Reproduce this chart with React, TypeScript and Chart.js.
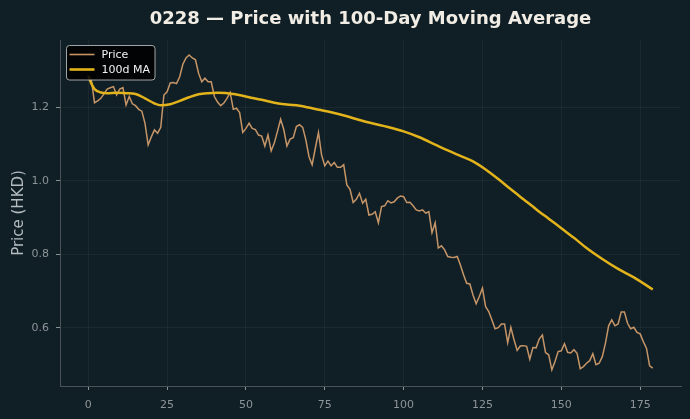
import React, { useEffect, useRef } from "react";
import { Chart, registerables } from "chart.js";

Chart.register(...registerables);

const titleText = "0228 — Price with 100-Day Moving Average";
const yAxisLabel = "Price (HKD)";
const priceLabel = "Price";
const maLabel = "100d MA";

const xTicks = [0, 25, 50, 75, 100, 125, 150, 175];
const yTicks = [0.6, 0.8, 1.0, 1.2];

const priceValues = [
  1.285, 1.275, 1.213, 1.218, 1.225, 1.237, 1.25, 1.254, 1.257, 1.234,
  1.25, 1.254, 1.207, 1.23, 1.21, 1.205, 1.195, 1.19, 1.157, 1.098,
  1.12, 1.139, 1.13, 1.146, 1.234, 1.243, 1.267, 1.268, 1.265, 1.284,
  1.318, 1.335, 1.343, 1.335, 1.33, 1.293, 1.27, 1.28, 1.27, 1.27,
  1.23, 1.215, 1.205, 1.212, 1.225, 1.241, 1.195, 1.198, 1.186, 1.132,
  1.143, 1.157, 1.143, 1.14, 1.125, 1.122, 1.095, 1.125, 1.082, 1.103,
  1.135, 1.168, 1.14, 1.095, 1.114, 1.118, 1.148, 1.153, 1.146, 1.112,
  1.066, 1.044, 1.089, 1.132, 1.07, 1.041, 1.054, 1.041, 1.05, 1.037,
  1.037, 1.044, 0.989, 0.977, 0.941, 0.95, 0.966, 0.939, 0.95, 0.907,
  0.909, 0.916, 0.886, 0.93, 0.932, 0.946, 0.94, 0.943, 0.953, 0.959,
  0.957, 0.941, 0.942, 0.932, 0.921, 0.918, 0.921, 0.912, 0.916, 0.859,
  0.886, 0.817, 0.823, 0.812, 0.794, 0.792, 0.791, 0.794, 0.771, 0.744,
  0.721, 0.719, 0.689, 0.665, 0.685, 0.708, 0.657, 0.644, 0.621, 0.597,
  0.6, 0.61, 0.61, 0.559, 0.601, 0.567, 0.538, 0.55, 0.551, 0.549,
  0.514, 0.546, 0.545, 0.569, 0.58, 0.532, 0.526, 0.485, 0.508, 0.535,
  0.537, 0.556, 0.533, 0.531, 0.54, 0.53, 0.488, 0.494, 0.503, 0.51,
  0.529, 0.499, 0.503, 0.521, 0.558, 0.605, 0.621, 0.605, 0.61, 0.643,
  0.643, 0.612, 0.597, 0.601, 0.587, 0.583, 0.562, 0.544, 0.496, 0.49,
];

const maDays = [
  0, 1, 2, 4, 6, 9, 12, 15, 18, 21, 23, 26, 29, 32, 35, 38, 41, 46, 51, 55,
  59, 63, 67, 72, 77, 82, 86, 90, 95, 100, 105, 110, 114, 118, 122, 126, 130,
  134, 138, 142, 146, 150, 154, 158, 163, 168, 173, 179,
];
const maValues = [
  1.286, 1.265, 1.25, 1.241, 1.239, 1.24, 1.239, 1.237, 1.225, 1.211, 1.206,
  1.209, 1.218, 1.228, 1.236, 1.239, 1.24, 1.237, 1.228, 1.221, 1.213, 1.208,
  1.205, 1.196, 1.187, 1.176, 1.166, 1.157, 1.147, 1.135, 1.119, 1.099, 1.083,
  1.068, 1.053, 1.031, 1.005, 0.977, 0.95, 0.923, 0.897, 0.871, 0.845, 0.817,
  0.787, 0.76, 0.737, 0.704,
];

const BG = "#101f26";
const PRICE_COLOR = "rgba(214,160,108,0.92)";
const MA_COLOR = "#e3b31c";
const FONT = '"DejaVu Sans", sans-serif';

const bgPlugin = {
  id: "bgFill",
  beforeDraw(chart: any) {
    const { ctx, width, height } = chart;
    ctx.save();
    ctx.fillStyle = BG;
    ctx.fillRect(0, 0, width, height);
    ctx.restore();
  },
};

const titlePlugin = {
  id: "customTitle",
  afterDraw(chart: any) {
    const { ctx, chartArea } = chart;
    ctx.save();
    ctx.font = `bold 18px ${FONT}`;
    ctx.fillStyle = "#f1ede4";
    ctx.textAlign = "center";
    ctx.textBaseline = "alphabetic";
    ctx.fillText(titleText, (chartArea.left + chartArea.right) / 2, 24);
    ctx.restore();
  },
};

const legendPlugin = {
  id: "customLegend",
  afterDraw(chart: any) {
    const { ctx, chartArea } = chart;
    const x = chartArea.left + 6.5;
    const y = chartArea.top + 5.5;
    const w = 88.5;
    const h = 34.5;
    ctx.save();
    ctx.beginPath();
    ctx.roundRect(x, y, w, h, 3);
    ctx.fillStyle = "rgba(0,0,0,0.88)";
    ctx.fill();
    ctx.strokeStyle = "rgba(190,190,190,0.85)";
    ctx.lineWidth = 1;
    ctx.stroke();
    const items = [
      { label: chart.data.datasets[0].label, color: chart.data.datasets[0].borderColor, lw: 1.6, yy: y + 9 },
      { label: chart.data.datasets[1].label, color: chart.data.datasets[1].borderColor, lw: 2.6, yy: y + 24 },
    ];
    ctx.font = `11px ${FONT}`;
    ctx.textBaseline = "middle";
    ctx.textAlign = "left";
    for (const it of items) {
      ctx.beginPath();
      ctx.strokeStyle = it.color;
      ctx.lineWidth = it.lw;
      ctx.moveTo(x + 3, it.yy);
      ctx.lineTo(x + 28, it.yy);
      ctx.stroke();
      ctx.fillStyle = "#f2f2f2";
      ctx.fillText(it.label, x + 35, it.yy + 0.5);
    }
    ctx.restore();
  },
};

export default function App() {
  const canvasRef = useRef<HTMLCanvasElement | null>(null);

  useEffect(() => {
    if (!canvasRef.current) return;
    const chart = new Chart(canvasRef.current, {
      type: "line",
      data: {
        datasets: [
          {
            label: priceLabel,
            data: priceValues.map((v, i) => ({ x: i, y: v })),
            borderColor: PRICE_COLOR,
            borderWidth: 1.5,
            pointRadius: 0,
            tension: 0,
            order: 2,
          },
          {
            label: maLabel,
            data: maDays.map((d, i) => ({ x: d, y: maValues[i] })),
            borderColor: MA_COLOR,
            borderWidth: 2.5,
            pointRadius: 0,
            cubicInterpolationMode: "monotone",
            order: 1,
          },
        ],
      },
      options: {
        animation: false,
        responsive: false,
        maintainAspectRatio: false,
        devicePixelRatio: 1,
        layout: { padding: { top: 40, right: 9, left: 0, bottom: 0 } },
        plugins: {
          legend: { display: false },
          title: { display: false },
          tooltip: { enabled: false },
        },
        scales: {
          x: {
            type: "linear",
            min: -8.95,
            max: 187.95,
            afterBuildTicks: (scale: any) => {
              scale.ticks = xTicks.map((v) => ({ value: v }));
            },
            afterFit: (scale: any) => {
              scale.height = 33;
            },
            grid: {
              color: "rgba(255,255,255,0.045)",
              tickColor: "#8a9296",
              tickLength: 4,
              drawTicks: true,
            },
            border: { color: "#4a5256", width: 1 },
            ticks: {
              color: "#8c9498",
              font: { family: FONT, size: 11 },
              padding: 9,
              maxRotation: 0,
              callback: (v: any) => String(v),
            },
          },
          y: {
            type: "linear",
            min: 0.441,
            max: 1.384,
            afterBuildTicks: (scale: any) => {
              scale.ticks = yTicks.map((v) => ({ value: v }));
            },
            afterFit: (scale: any) => {
              scale.width = 60;
            },
            grid: {
              color: "rgba(255,255,255,0.045)",
              tickColor: "#8a9296",
              tickLength: 4,
              drawTicks: true,
            },
            border: { color: "#4a5256", width: 1 },
            ticks: {
              color: "#8c9498",
              font: { family: FONT, size: 11 },
              padding: 7,
              callback: (v: any) => Number(v).toFixed(1),
            },
            title: {
              display: true,
              text: yAxisLabel,
              color: "#b4bcc0",
              font: { family: FONT, size: 15 },
              padding: { top: 10, bottom: 0 },
            },
          },
        },
      },
      plugins: [bgPlugin, titlePlugin, legendPlugin],
    });
    return () => chart.destroy();
  }, []);

  return (
    <div style={{ position: "absolute", left: 0, top: 0, width: 690, height: 419, background: BG }}>
      <canvas ref={canvasRef} width={690} height={419} style={{ width: 690, height: 419, display: "block" }} />
    </div>
  );
}
